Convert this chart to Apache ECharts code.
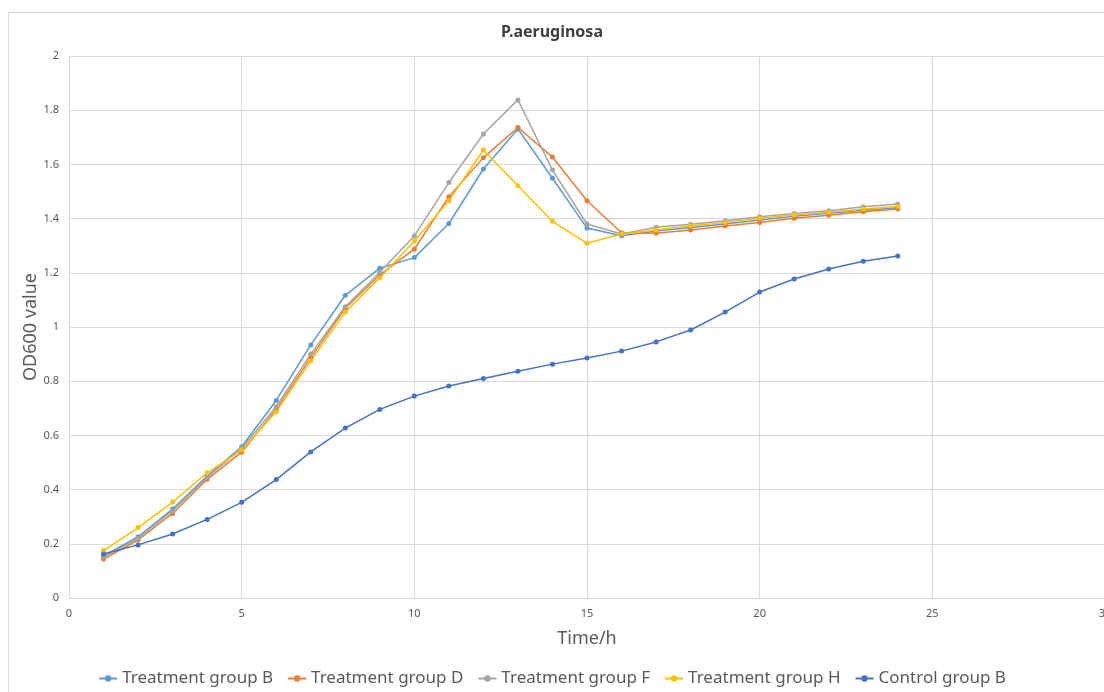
<!DOCTYPE html>
<html lang="en">
<head>
    <meta charset="UTF-8">
    <title>P.aeruginosa</title>
    <script src="https://cdn.jsdelivr.net/npm/echarts@6/dist/echarts.min.js"></script>
    <style>
        html, body { margin: 0; padding: 0; background: #fff; }
        #main { width: 1104px; height: 692px; }
    </style>
</head>
<body>
<div id="main"></div>
<script>
    // 时间 (h)
    var hours = [1, 2, 3, 4, 5, 6, 7, 8, 9, 10, 11, 12, 13, 14, 15, 16, 17, 18, 19, 20, 21, 22, 23, 24];

    var groupB = [0.155, 0.226, 0.328, 0.450, 0.558, 0.729, 0.934, 1.117, 1.217, 1.256, 1.382, 1.583, 1.731, 1.549, 1.365, 1.337, 1.354, 1.367, 1.380, 1.395, 1.409, 1.420, 1.431, 1.440];
    var groupD = [0.144, 0.214, 0.312, 0.438, 0.538, 0.696, 0.887, 1.069, 1.192, 1.287, 1.481, 1.625, 1.736, 1.627, 1.466, 1.348, 1.346, 1.358, 1.373, 1.386, 1.401, 1.412, 1.425, 1.435];
    var groupF = [0.152, 0.220, 0.322, 0.445, 0.552, 0.706, 0.900, 1.075, 1.202, 1.336, 1.533, 1.712, 1.838, 1.579, 1.380, 1.343, 1.368, 1.379, 1.392, 1.407, 1.419, 1.429, 1.444, 1.454];
    var groupH = [0.175, 0.260, 0.354, 0.462, 0.546, 0.687, 0.875, 1.055, 1.182, 1.317, 1.466, 1.653, 1.521, 1.390, 1.309, 1.343, 1.358, 1.374, 1.386, 1.401, 1.414, 1.423, 1.435, 1.445];
    var controlB = [0.162, 0.196, 0.236, 0.290, 0.353, 0.437, 0.539, 0.627, 0.696, 0.745, 0.782, 0.810, 0.837, 0.863, 0.886, 0.911, 0.945, 0.989, 1.055, 1.129, 1.177, 1.214, 1.243, 1.262];

    var names = ['Treatment group B', 'Treatment group D', 'Treatment group F', 'Treatment group H', 'Control group B'];
    var values = [groupB, groupD, groupF, groupH, controlB];
    var colors = ['#5B9BD5', '#ED7D31', '#A5A5A5', '#FFC000', '#4472C4'];

    var myChart = echarts.init(document.getElementById('main'));

    var series = names.map(function (n, i) {
        return {
            name: n,
            type: 'line',
            data: hours.map(function (h, j) { return [h, values[i][j]]; }),
            symbol: 'circle',
            symbolSize: 5,
            color: colors[i],
            lineStyle: { width: 1.5 },
            animation: false
        };
    });

    var option = {
        textStyle: { fontFamily: 'Noto Sans' },
        graphic: [{
            type: 'rect',
            shape: { x: 8.5, y: 12.5, width: 1110, height: 700 },
            style: { fill: 'none', stroke: '#d9d9d9', lineWidth: 1 }
        }],
        title: {
            text: 'P.aeruginosa',
            left: 'center',
            top: 19,
            textStyle: { fontSize: 16, fontWeight: 'bold', color: '#404040' }
        },
        legend: {
            data: names,
            bottom: 0,
            left: 'center',
            itemGap: 14,
            itemWidth: 18,
            itemHeight: 8,
            textStyle: { fontSize: 17, color: '#595959' }
        },
        grid: { left: 69, right: -1, top: 56, bottom: 94, outerBoundsMode: 'none', containLabel: false },
        xAxis: {
            type: 'value',
            min: 0,
            max: 30,
            interval: 5,
            name: 'Time/h',
            nameLocation: 'middle',
            nameGap: 32,
            nameMoveOverlap: false,
            nameTextStyle: { fontSize: 18, color: '#595959' },
            axisLine: { lineStyle: { color: '#d9d9d9' } },
            axisTick: { show: false },
            axisLabel: { fontSize: 11, color: '#595959', margin: 10, hideOverlap: false },
            splitLine: { show: true, lineStyle: { color: '#d9d9d9' } }
        },
        yAxis: {
            type: 'value',
            min: 0,
            max: 2,
            interval: 0.2,
            name: 'OD600 value',
            nameLocation: 'middle',
            nameGap: 29,
            nameMoveOverlap: false,
            nameTextStyle: { fontSize: 18, color: '#595959' },
            axisLine: { show: false },
            axisTick: { show: false },
            axisLabel: { fontSize: 11, color: '#595959', margin: 10 },
            splitLine: { show: true, lineStyle: { color: '#d9d9d9' } }
        },
        series: series
    };
    myChart.setOption(option);
</script>
</body>
</html>
